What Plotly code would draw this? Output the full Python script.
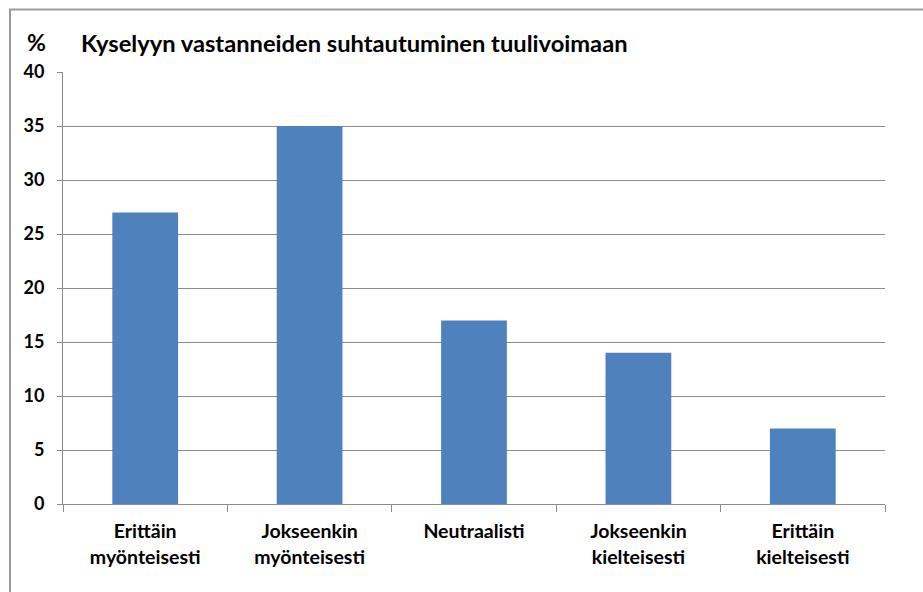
import plotly.graph_objects as go

categories = ["Erittäin<br>myönteisesti", "Jokseenkin<br>myönteisesti", "Neutraalisti",
              "Jokseenkin<br>kielteisesti", "Erittäin<br>kielteisesti"]
values = [27, 35, 17, 14, 7]
y_ticks = [0, 5, 10, 15, 20, 25, 30, 35, 40]
title_text = "Kyselyyn vastanneiden suhtautuminen tuulivoimaan"
unit_text = "%"

FONT = "Lato, Calibri, Arial, sans-serif"
GRID = "#8c8c8c"

fig = go.Figure(go.Bar(x=categories, y=values, marker=dict(color="#4F81BD", line=dict(width=0)),
                       width=0.4))

fig.update_layout(
    width=923, height=592,
    margin=dict(l=63, r=38, t=72, b=88),
    paper_bgcolor="white", plot_bgcolor="white",
    showlegend=False,
    font=dict(family=FONT, color="#000000"),
    xaxis=dict(showgrid=False, showline=True, linecolor=GRID, linewidth=1,
               ticks="outside", ticklen=7, tickcolor=GRID, tickson="boundaries",
               ticklabelstandoff=10,
               tickfont=dict(size=19.5, family=FONT, weight="bold")),
    yaxis=dict(range=[0, 40], tickvals=y_ticks, showgrid=True, gridcolor=GRID, gridwidth=1,
               showline=True, linecolor=GRID, linewidth=1, zeroline=False,
               ticks="outside", ticklen=5, tickcolor=GRID, ticklabelstandoff=9,
               tickfont=dict(size=18, family=FONT, weight="bold")),
    shapes=[dict(type="rect", xref="paper", yref="paper", x0=-53/822, x1=1.2, y0=-0.3, y1=1 + 62.5/432,
                 line=dict(color="#999999", width=2), fillcolor="rgba(0,0,0,0)", layer="below")],
    annotations=[
        dict(text=unit_text, xref="paper", yref="paper", x=-38/822, y=1 + 30/432,
             xanchor="left", yanchor="middle", showarrow=False,
             font=dict(size=23, family=FONT, weight="bold")),
        dict(text=title_text, xref="paper", yref="paper", x=16/822, y=1 + 29/432,
             xanchor="left", yanchor="middle", showarrow=False,
             font=dict(size=23.7, family=FONT, weight="bold")),
    ],
)

fig.write_html("out.html", config={"displayModeBar": False},
               post_script="document.body.style.margin='0';document.body.style.overflow='hidden';")
